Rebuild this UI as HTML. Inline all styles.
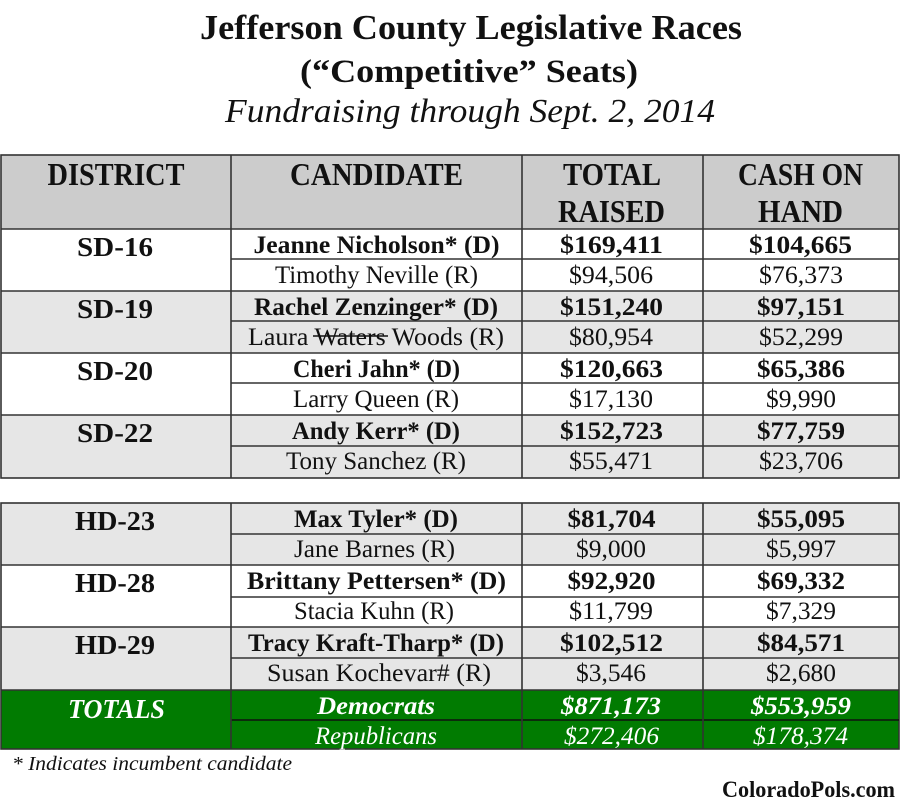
<!DOCTYPE html>
<html>
<head>
<meta charset="utf-8">
<style>
  html,body{margin:0;padding:0;background:#fff;}
  svg{display:block;}
  text{font-family:"Liberation Serif",serif;fill:#111;}
  .b{font-weight:bold;}
  .i{font-style:italic;}
  .w{fill:#fff;}
</style>
</head>
<body>
<svg width="900" height="809" viewBox="0 0 900 809" xmlns="http://www.w3.org/2000/svg">
  <rect x="0" y="0" width="900" height="809" fill="#fff"/>

  <!-- Title -->
  <text class="b" x="471" y="39" font-size="35" text-anchor="middle" textLength="542" lengthAdjust="spacingAndGlyphs">Jefferson County Legislative Races</text>
  <text class="b" x="469" y="82" font-size="33" text-anchor="middle" textLength="338" lengthAdjust="spacingAndGlyphs">(“Competitive” Seats)</text>
  <text class="i" x="470" y="122" font-size="34" text-anchor="middle" textLength="490" lengthAdjust="spacingAndGlyphs">Fundraising through Sept. 2, 2014</text>

  <!-- Backgrounds table 1 -->
  <rect x="1" y="155" width="898" height="74" fill="#cccccc"/>
  <rect x="1" y="229" width="898" height="62" fill="#ffffff"/>
  <rect x="1" y="291" width="898" height="62" fill="#e6e6e6"/>
  <rect x="1" y="353" width="898" height="62" fill="#ffffff"/>
  <rect x="1" y="415" width="898" height="63" fill="#e6e6e6"/>
  <!-- Backgrounds table 2 -->
  <rect x="1" y="503" width="898" height="62" fill="#e6e6e6"/>
  <rect x="1" y="565" width="898" height="62" fill="#ffffff"/>
  <rect x="1" y="627" width="898" height="63" fill="#e6e6e6"/>
  <rect x="1" y="690" width="898" height="59" fill="#017b01"/>

  <!-- Lines table 1 -->
  <g stroke="#333" stroke-width="1.6" fill="none">
    <rect x="1" y="155" width="898" height="323"/>
    <line x1="1" y1="229" x2="899" y2="229"/>
    <line x1="1" y1="291" x2="899" y2="291"/>
    <line x1="1" y1="353" x2="899" y2="353"/>
    <line x1="1" y1="415" x2="899" y2="415"/>
    <line x1="231" y1="259" x2="899" y2="259"/>
    <line x1="231" y1="321" x2="899" y2="321"/>
    <line x1="231" y1="383" x2="899" y2="383"/>
    <line x1="231" y1="446" x2="899" y2="446"/>
    <line x1="231" y1="155" x2="231" y2="478"/>
    <line x1="522" y1="155" x2="522" y2="478"/>
    <line x1="703" y1="155" x2="703" y2="478"/>
  </g>
  <!-- Lines table 2 -->
  <g stroke="#333" stroke-width="1.6" fill="none">
    <rect x="1" y="503" width="898" height="246"/>
    <line x1="1" y1="565" x2="899" y2="565"/>
    <line x1="1" y1="627" x2="899" y2="627"/>
    <line x1="1" y1="690" x2="899" y2="690"/>
    <line x1="231" y1="534" x2="899" y2="534"/>
    <line x1="231" y1="597" x2="899" y2="597"/>
    <line x1="231" y1="658" x2="899" y2="658"/>
    <line x1="231" y1="720" x2="899" y2="720" stroke="#111"/>
    <line x1="231" y1="503" x2="231" y2="749"/>
    <line x1="522" y1="503" x2="522" y2="749"/>
    <line x1="703" y1="503" x2="703" y2="749"/>
  </g>

  <!-- Header -->
  <g font-size="32" text-anchor="middle">
    <text class="b" x="116" y="185" textLength="137" lengthAdjust="spacingAndGlyphs">DISTRICT</text>
    <text class="b" x="376.5" y="185" textLength="173" lengthAdjust="spacingAndGlyphs">CANDIDATE</text>
    <text class="b" x="612" y="185" textLength="98" lengthAdjust="spacingAndGlyphs">TOTAL</text>
    <text class="b" x="611.5" y="222" textLength="107" lengthAdjust="spacingAndGlyphs">RAISED</text>
    <text class="b" x="800.5" y="185" textLength="125" lengthAdjust="spacingAndGlyphs">CASH ON</text>
    <text class="b" x="800.5" y="222" textLength="85" lengthAdjust="spacingAndGlyphs">HAND</text>
  </g>

  <!-- Districts -->
  <g font-size="27" text-anchor="middle">
    <text class="b" x="115" y="256" textLength="76" lengthAdjust="spacingAndGlyphs">SD-16</text>
    <text class="b" x="115" y="318" textLength="76" lengthAdjust="spacingAndGlyphs">SD-19</text>
    <text class="b" x="115" y="380" textLength="76" lengthAdjust="spacingAndGlyphs">SD-20</text>
    <text class="b" x="115" y="442" textLength="76" lengthAdjust="spacingAndGlyphs">SD-22</text>
    <text class="b" x="115" y="530" textLength="80" lengthAdjust="spacingAndGlyphs">HD-23</text>
    <text class="b" x="115" y="592" textLength="80" lengthAdjust="spacingAndGlyphs">HD-28</text>
    <text class="b" x="115" y="654" textLength="80" lengthAdjust="spacingAndGlyphs">HD-29</text>
  </g>

  <!-- Candidates -->
  <g font-size="25" text-anchor="middle">
    <text class="b" x="376.5" y="253" textLength="246" lengthAdjust="spacingAndGlyphs">Jeanne Nicholson* (D)</text>
    <text x="376.5" y="283" textLength="203" lengthAdjust="spacingAndGlyphs">Timothy Neville (R)</text>
    <text class="b" x="376" y="315" textLength="244" lengthAdjust="spacingAndGlyphs">Rachel Zenzinger* (D)</text>
    <text x="376" y="345" textLength="256" lengthAdjust="spacingAndGlyphs">Laura Waters Woods (R)</text>
    <text class="b" x="376.5" y="377" textLength="167" lengthAdjust="spacingAndGlyphs">Cheri Jahn* (D)</text>
    <text x="376" y="407" textLength="166" lengthAdjust="spacingAndGlyphs">Larry Queen (R)</text>
    <text class="b" x="376" y="439" textLength="168" lengthAdjust="spacingAndGlyphs">Andy Kerr* (D)</text>
    <text x="376" y="469" textLength="180" lengthAdjust="spacingAndGlyphs">Tony Sanchez (R)</text>

    <text class="b" x="376" y="527" textLength="164" lengthAdjust="spacingAndGlyphs">Max Tyler* (D)</text>
    <text x="374.5" y="557" textLength="161" lengthAdjust="spacingAndGlyphs">Jane Barnes (R)</text>
    <text class="b" x="376.5" y="589" textLength="259" lengthAdjust="spacingAndGlyphs">Brittany Pettersen* (D)</text>
    <text x="374" y="619" textLength="160" lengthAdjust="spacingAndGlyphs">Stacia Kuhn (R)</text>
    <text class="b" x="376" y="651" textLength="256" lengthAdjust="spacingAndGlyphs">Tracy Kraft-Tharp* (D)</text>
    <text x="379" y="681" textLength="224" lengthAdjust="spacingAndGlyphs">Susan Kochevar# (R)</text>
  </g>
  <!-- strikethrough on Waters -->
  <line x1="313" y1="336" x2="388" y2="336" stroke="#111" stroke-width="1.4"/>

  <!-- Money -->
  <g font-size="25" text-anchor="middle">
    <text class="b" x="611.5" y="253" textLength="103" lengthAdjust="spacingAndGlyphs">$169,411</text>
    <text class="b" x="800.5" y="253" textLength="103" lengthAdjust="spacingAndGlyphs">$104,665</text>
    <text x="611" y="283" textLength="84" lengthAdjust="spacingAndGlyphs">$94,506</text>
    <text x="801" y="283" textLength="84" lengthAdjust="spacingAndGlyphs">$76,373</text>

    <text class="b" x="611.5" y="315" textLength="103" lengthAdjust="spacingAndGlyphs">$151,240</text>
    <text class="b" x="801" y="315" textLength="88" lengthAdjust="spacingAndGlyphs">$97,151</text>
    <text x="611" y="345" textLength="84" lengthAdjust="spacingAndGlyphs">$80,954</text>
    <text x="801" y="345" textLength="84" lengthAdjust="spacingAndGlyphs">$52,299</text>

    <text class="b" x="611.5" y="377" textLength="103" lengthAdjust="spacingAndGlyphs">$120,663</text>
    <text class="b" x="801" y="377" textLength="88" lengthAdjust="spacingAndGlyphs">$65,386</text>
    <text x="611" y="407" textLength="84" lengthAdjust="spacingAndGlyphs">$17,130</text>
    <text x="801" y="407" textLength="70" lengthAdjust="spacingAndGlyphs">$9,990</text>

    <text class="b" x="611.5" y="439" textLength="103" lengthAdjust="spacingAndGlyphs">$152,723</text>
    <text class="b" x="801" y="439" textLength="88" lengthAdjust="spacingAndGlyphs">$77,759</text>
    <text x="611" y="469" textLength="84" lengthAdjust="spacingAndGlyphs">$55,471</text>
    <text x="801" y="469" textLength="84" lengthAdjust="spacingAndGlyphs">$23,706</text>

    <text class="b" x="611.5" y="527" textLength="88" lengthAdjust="spacingAndGlyphs">$81,704</text>
    <text class="b" x="801" y="527" textLength="88" lengthAdjust="spacingAndGlyphs">$55,095</text>
    <text x="611" y="557" textLength="70" lengthAdjust="spacingAndGlyphs">$9,000</text>
    <text x="801" y="557" textLength="70" lengthAdjust="spacingAndGlyphs">$5,997</text>

    <text class="b" x="611.5" y="589" textLength="88" lengthAdjust="spacingAndGlyphs">$92,920</text>
    <text class="b" x="801" y="589" textLength="88" lengthAdjust="spacingAndGlyphs">$69,332</text>
    <text x="611" y="619" textLength="84" lengthAdjust="spacingAndGlyphs">$11,799</text>
    <text x="801" y="619" textLength="70" lengthAdjust="spacingAndGlyphs">$7,329</text>

    <text class="b" x="611.5" y="651" textLength="103" lengthAdjust="spacingAndGlyphs">$102,512</text>
    <text class="b" x="801" y="651" textLength="88" lengthAdjust="spacingAndGlyphs">$84,571</text>
    <text x="611" y="681" textLength="70" lengthAdjust="spacingAndGlyphs">$3,546</text>
    <text x="801" y="681" textLength="70" lengthAdjust="spacingAndGlyphs">$2,680</text>
  </g>

  <!-- Totals -->
  <g text-anchor="middle">
    <text class="b i w" x="116.5" y="718" font-size="27" textLength="97" lengthAdjust="spacingAndGlyphs">TOTALS</text>
    <text class="b i w" x="376" y="714" font-size="25" textLength="118" lengthAdjust="spacingAndGlyphs">Democrats</text>
    <text class="i w" x="376" y="744" font-size="25" textLength="122" lengthAdjust="spacingAndGlyphs">Republicans</text>
    <text class="b i w" x="611" y="714" font-size="25" textLength="100" lengthAdjust="spacingAndGlyphs">$871,173</text>
    <text class="b i w" x="801" y="714" font-size="25" textLength="100" lengthAdjust="spacingAndGlyphs">$553,959</text>
    <text class="i w" x="611.5" y="744" font-size="25" textLength="95" lengthAdjust="spacingAndGlyphs">$272,406</text>
    <text class="i w" x="800.5" y="744" font-size="25" textLength="95" lengthAdjust="spacingAndGlyphs">$178,374</text>
  </g>

  <!-- Footnotes -->
  <text class="i" x="12" y="770" font-size="20" textLength="280" lengthAdjust="spacingAndGlyphs">* Indicates incumbent candidate</text>
  <text class="b" x="722" y="797" font-size="23" textLength="173" lengthAdjust="spacingAndGlyphs">ColoradoPols.com</text>
</svg>
</body>
</html>
